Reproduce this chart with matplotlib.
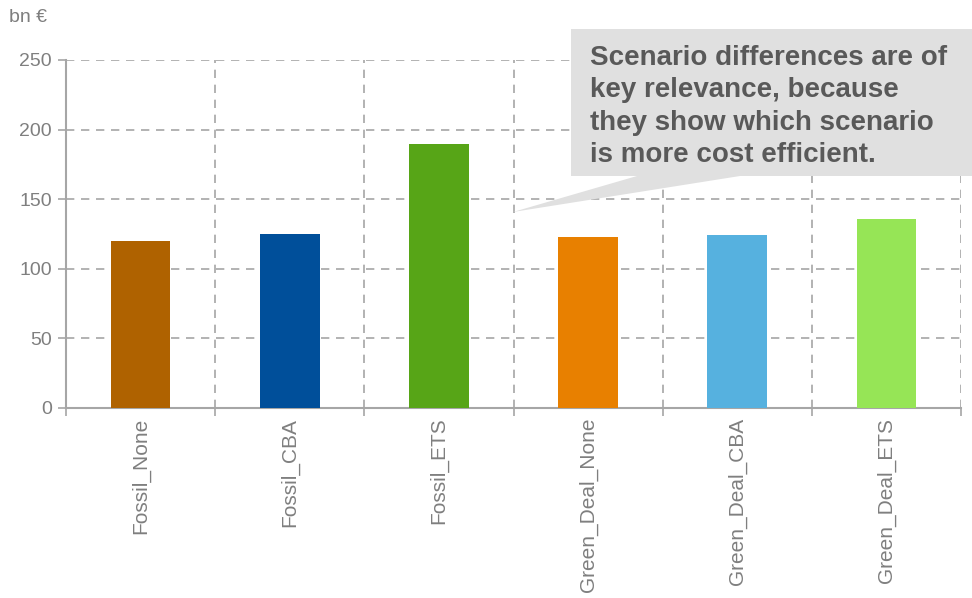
import matplotlib.pyplot as plt
from matplotlib.patches import Polygon

plt.rcParams['font.family'] = ['Liberation Sans', 'DejaVu Sans']

scenarios = ["Fossil_None", "Fossil_CBA", "Fossil_ETS",
             "Green_Deal_None", "Green_Deal_CBA", "Green_Deal_ETS"]
costs = [120, 125, 190, 123, 124, 136]
colors = ["#AF6200", "#004F9A", "#57A517", "#E88000", "#56B1DF", "#96E556"]
note = ("Scenario differences are of\nkey relevance, because\n"
        "they show which scenario\nis more cost efficient.")

W, H = 972, 598
fig = plt.figure(figsize=(W / 100, H / 100), dpi=100)
ax = fig.add_axes([66 / W, 1 - 408 / H, 895 / W, 348 / H])

grey = "#A6A6A6"
txt = "#7F7F7F"
x = range(len(scenarios))
ax.bar(x, costs, width=0.4, color=colors, zorder=3)

ax.set_xlim(-0.5, len(scenarios) - 0.5)
ax.set_ylim(0, 250)
ax.set_yticks(range(0, 251, 50))
ax.set_xticks(list(x))
ax.set_xticklabels(scenarios, rotation=90, fontsize=15, color=txt)
ax.set_xticks([i - 0.5 for i in range(len(scenarios) + 1)], minor=True)
ax.tick_params(axis="x", which="major", length=0, pad=7)
ax.tick_params(axis="x", which="minor", length=6, color=grey, width=1.2)
ax.tick_params(axis="y", length=6, color=grey, width=1.2, labelsize=14,
               labelcolor=txt, pad=4)

ax.grid(axis="y", which="major", ls=(0, (5, 4)), color=grey, lw=1.2, zorder=0)
ax.grid(axis="x", which="minor", ls=(0, (5, 4)), color=grey, lw=1.2, zorder=0)
for s in ["top", "right"]:
    ax.spines[s].set_visible(False)
for s in ["left", "bottom"]:
    ax.spines[s].set_color(grey)
    ax.spines[s].set_linewidth(1.5)

fig.text(9 / W, 1 - 17 / H, "bn €", fontsize=14, color=txt, va="center")

# speech bubble in figure pixel space (y measured from top)
def fp(px, py):
    return (px / W, 1 - py / H)

bubble = [fp(571, 29), fp(975, 29), fp(975, 176), fp(740, 176),
          fp(513, 212), fp(637, 176), fp(571, 176)]
fig.patches.append(Polygon(bubble, closed=True, transform=fig.transFigure,
                           facecolor="#E0E0E0", edgecolor="none", zorder=5))
fig.text(590 / W, 1 - 45 / H, note, fontsize=20, fontweight="bold",
         color="#595959", va="top", ha="left", linespacing=1.32, zorder=6)

fig.savefig("out.png", dpi=100)
